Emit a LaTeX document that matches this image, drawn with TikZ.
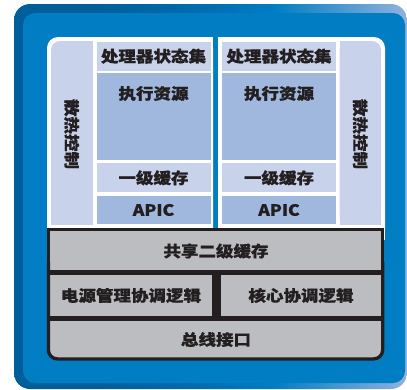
\documentclass[tikz,border=0pt]{standalone}
\usepackage{fontspec}
\newfontfamily\cjk[FakeStretch=1.13, BoldFeatures={FakeBold=0.8}]{Noto Sans CJK SC}
\definecolor{dkblue}{RGB}{0,94,155}
\definecolor{midblue}{RGB}{0,110,178}
\definecolor{inblue}{RGB}{0,125,195}
\definecolor{ltend}{RGB}{145,178,222}
\definecolor{lightcell}{RGB}{200,211,235}
\definecolor{medcell}{RGB}{160,184,222}
\definecolor{graycell}{RGB}{188,189,193}
\definecolor{ink}{RGB}{35,31,32}
\pgfdeclarehorizontalshading{frameshade}{100bp}{color(0bp)=(dkblue); color(25bp)=(dkblue); color(36bp)=(dkblue); color(50bp)=(midblue); color(58bp)=(inblue); color(75bp)=(ltend); color(100bp)=(ltend)}
\tikzset{
  cellbox/.style={inner sep=0pt, outer sep=0pt, text=ink, font=\cjk\bfseries\fontsize{15.5}{18}\selectfont},
  lbl/.style={inner sep=0pt, text=ink, font=\cjk\bfseries\fontsize{15.5}{18}\selectfont},
  blk/.style={draw=ink, line width=3.3pt},
}
\begin{document}
\begin{tikzpicture}[x=1pt,y=-1pt]
\useasboundingbox (0,0) rectangle (407,389);
\fill[white] (0,0) rectangle (407,389);
% outer frame
\shade[shading=frameshade, rounded corners=16] (14,4) rectangle (407,389);
\fill[inblue, rounded corners=12] (23,13) rectangle (405,383);
% white panels
\fill[white, rounded corners=11] (47,37) rectangle (213,240);
\fill[white] (120,37) rectangle (213,240);
\fill[white] (47,120) rectangle (213,240);
\fill[white, rounded corners=11] (218,37) rectangle (385,240);
\fill[white] (218,37) rectangle (300,240);
\fill[white] (218,120) rectangle (385,240);
% heat columns
\fill[lightcell, rounded corners=9] (51,41) rectangle (92.5,224.5);
\fill[lightcell] (70,41) rectangle (92.5,224.5);
\fill[lightcell] (51,100) rectangle (92.5,224.5);
\fill[lightcell, rounded corners=9] (339.5,41) rectangle (381,224.5);
\fill[lightcell] (339.5,41) rectangle (360,224.5);
\fill[lightcell] (339.5,100) rectangle (381,224.5);
\node[lbl, rotate=-90] (h1) at (71.75,134) {散热控制};
\node[lbl, rotate=-90] (h2) at (360.25,134) {散热控制};
% left core
\node[cellbox, fill=lightcell, minimum width=114pt, minimum height=29.2pt] (s1) at (153.5,56.1) {处理器状态集};
\node[cellbox, fill=medcell, minimum width=114pt, minimum height=87.3pt] (e1) at (153.5,116.35) {};
\node[lbl] (e1t) at (153.5,93.5) {执行资源};
\node[cellbox, fill=lightcell, minimum width=114pt, minimum height=29pt] (c1) at (153.5,177.8) {一级缓存};
\node[cellbox, fill=medcell, minimum width=114pt, minimum height=28.6pt] (a1) at (153.5,210) {APIC};
% right core
\node[cellbox, fill=lightcell, minimum width=114pt, minimum height=29.2pt] (s2) at (279,56.1) {处理器状态集};
\node[cellbox, fill=medcell, minimum width=114pt, minimum height=87.3pt] (e2) at (279,116.35) {};
\node[lbl] (e2t) at (279,93.5) {执行资源};
\node[cellbox, fill=lightcell, minimum width=114pt, minimum height=29pt] (c2) at (279,177.8) {一级缓存};
\node[cellbox, fill=medcell, minimum width=114pt, minimum height=28.6pt] (a2) at (279,210) {APIC};
% gray block
\fill[graycell, rounded corners=9] (48.4,229.2) rectangle (382.7,358.9);
\fill[graycell] (48.4,229.2) rectangle (382.7,300);
\begin{scope}
\clip (0,262) rectangle (407,389);
\draw[blk, rounded corners=9] (48.4,229.2) rectangle (382.7,358.9);
\end{scope}
\draw[blk, line join=miter] (48.4,268) -- (48.4,229.2) -- (382.7,229.2) -- (382.7,268);
\draw[draw=ink, line width=5pt] (48.4,272.2) -- (382.7,272.2);
\draw[draw=ink, line width=4.5pt] (48.4,318.3) -- (382.7,318.3);
\draw[draw=ink, line width=9pt] (216.2,272.2) -- (216.2,318.3);
\node[lbl] (l2) at (216,251) {共享二级缓存};
\node[lbl] (pm) at (131,295.5) {电源管理协调逻辑};
\node[lbl] (cc) at (301,295.5) {核心协调逻辑};
\node[lbl] (bus) at (216,339.5) {总线接口};
\end{tikzpicture}
\end{document}
